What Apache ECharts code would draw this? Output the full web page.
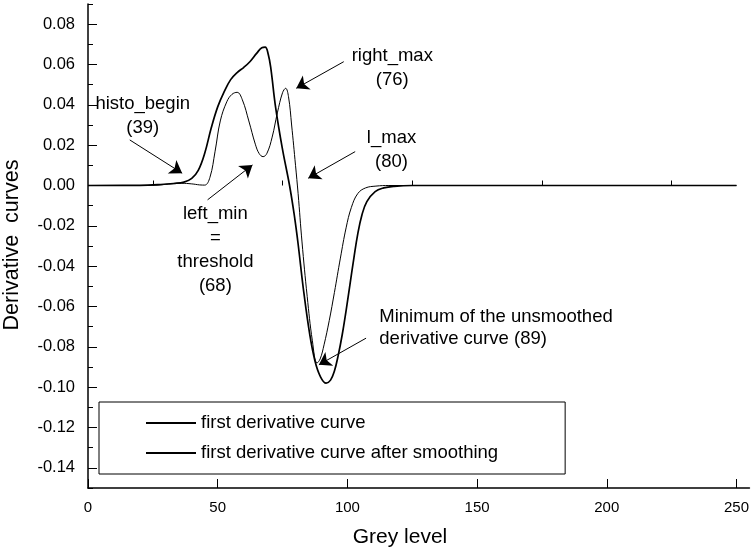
<!DOCTYPE html>
<html>
<head>
<meta charset="utf-8">
<script src="https://cdn.jsdelivr.net/npm/echarts@6/dist/echarts.min.js"></script>
<style>
  html, body { margin: 0; padding: 0; background: #fff; }
  #chart { width: 752px; height: 557px; }
</style>
</head>
<body>
<div id="chart"></div>
<script>
// Unsmoothed first derivative of the grey-level histogram
const rawGrey  = [0, 20, 27, 31, 36, 40, 43, 45, 47, 49, 51, 53.5, 55.5, 57.5, 59.5, 62, 64.5, 66, 67.5, 69, 71, 73, 75, 76.2, 77.3, 78.5, 80, 81, 82.5, 84.5, 86.5, 88.3, 89.5, 91, 93, 95, 97.3, 99.5, 101.5, 104, 107, 111, 116, 250];
const rawDeriv = [0, 0, 0.0002, 0.0007, 0.0011, 0.0008, 0.0003, 0.0002, 0.004, 0.017, 0.032, 0.0415, 0.0452, 0.0462, 0.0425, 0.032, 0.0205, 0.0158, 0.0143, 0.016, 0.024, 0.036, 0.046, 0.0482, 0.044, 0.03, 0.010, -0.004, -0.028, -0.055, -0.077, -0.088, -0.086, -0.079, -0.067, -0.053, -0.036, -0.021, -0.011, -0.004, -0.0012, -0.0003, 0, 0];

// First derivative after smoothing
const smoothGrey  = [0, 20, 28, 33, 37, 40, 42.5, 45, 47.5, 50, 52.5, 55, 57.5, 60, 62.5, 65, 67, 68.3, 69.5, 70.5, 72.3, 74.9, 77.7, 79.5, 81, 83, 85.5, 87.5, 89.5, 91.8, 93.5, 95, 96.5, 98, 99.5, 101, 102.5, 104, 105.6, 107.5, 110.7, 114, 118, 125, 250];
const smoothDeriv = [0, 0.0001, 0.0005, 0.001, 0.0017, 0.0035, 0.0075, 0.016, 0.0285, 0.039, 0.0465, 0.0525, 0.056, 0.0585, 0.0615, 0.0655, 0.0683, 0.0686, 0.065, 0.058, 0.039, 0.0185, 0, -0.0145, -0.029, -0.051, -0.074, -0.087, -0.0945, -0.098, -0.0965, -0.092, -0.084, -0.074, -0.062, -0.049, -0.036, -0.024, -0.0146, -0.008, -0.003, -0.0012, -0.0004, 0, 0];

// Axis ticks
const xMajorTicks = [0, 50, 100, 150, 200, 250];
const xMinorTicks = [25, 75, 125, 175, 225];
const yMajorTicks = [-0.14, -0.12, -0.10, -0.08, -0.06, -0.04, -0.02, 0.00, 0.02, 0.04, 0.06, 0.08];
const yMinorTicks = [-0.15, -0.13, -0.11, -0.09, -0.07, -0.05, -0.03, -0.01, 0.01, 0.03, 0.05, 0.07, 0.09];

const seriesNames = ['first derivative curve', 'first derivative curve after smoothing'];

// Annotations: text block anchor, text alignment, arrow tail and arrow head (grey level, derivative)
const noteTexts  = ['histo_begin\n(39)', 'left_min\n=\nthreshold\n(68)', 'right_max\n(76)', 'l_max\n(80)', 'Minimum of the unsmoothed\nderivative curve (89)'];
const noteAnchor = [[21.1, 0.0347], [49.1, -0.0319], [117.3, 0.0585], [117.0, 0.0176], [112.3, -0.0708]];
const noteAlign  = ['center', 'center', 'center', 'center', 'left'];
const arrowTail  = [[16.1, 0.0226], [46.1, -0.0071], [98.6, 0.0614], [103.0, 0.0168], [107.2, -0.0757]];
const arrowHead  = [[36.3, 0.0061], [63.4, 0.0102], [80.3, 0.0482], [84.9, 0.0036], [89.0, -0.0889]];

const FONT = 'Liberation Sans, Arial, sans-serif';
const zip = (xs, ys) => xs.map((x, i) => [x, ys[i]]);

const chart = echarts.init(document.getElementById('chart'), null, { renderer: 'canvas' });

const axisLineStyle = { color: '#000', width: 1.5 };

const option = {
  animation: false,
  backgroundColor: '#fff',
  grid: { left: 88, right: 0, top: 4, bottom: 69, containLabel: false },
  xAxis: [
    {
      type: 'value', min: 0, max: 255, position: 'bottom',
      axisLine: { show: true, onZero: false, lineStyle: axisLineStyle },
      axisTick: { show: true, inside: true, length: 9, customValues: xMajorTicks, lineStyle: { color: '#000', width: 1 } },
      axisLabel: { show: true, customValues: xMajorTicks, margin: 12, color: '#000', fontSize: 15, fontFamily: FONT },
      splitLine: { show: false }
    },
    {
      type: 'value', min: 0, max: 255, position: 'bottom', offset: 0,
      axisLine: { show: false },
      axisTick: { show: true, inside: true, length: 5, customValues: xMinorTicks, lineStyle: { color: '#000', width: 1 } },
      axisLabel: { show: false },
      splitLine: { show: false }
    }
  ],
  yAxis: [
    {
      type: 'value', min: -0.15, max: 0.09, position: 'left',
      axisLine: { show: true, onZero: false, lineStyle: axisLineStyle },
      axisTick: { show: true, inside: true, length: 9, customValues: yMajorTicks, lineStyle: { color: '#000', width: 1 } },
      axisLabel: {
        show: true, customValues: yMajorTicks, margin: 13, color: '#000', fontSize: 16.5, fontFamily: FONT,
        formatter: v => (Math.abs(v) < 1e-9 ? 0 : v).toFixed(2)
      },
      splitLine: { show: false }
    },
    {
      type: 'value', min: -0.15, max: 0.09, position: 'left', offset: 0,
      axisLine: { show: false },
      axisTick: { show: true, inside: true, length: 5, customValues: yMinorTicks, lineStyle: { color: '#000', width: 1 } },
      axisLabel: { show: false },
      splitLine: { show: false }
    }
  ],
  legend: {
    orient: 'vertical',
    left: 99, top: 402,
    data: seriesNames,
    itemWidth: 50, itemHeight: 14, itemGap: 11,
    padding: [11.5, 67, 11.5, 46],
    borderColor: '#000', borderWidth: 1,
    itemStyle: { opacity: 0 },
    textStyle: { color: '#000', fontSize: 18.5, lineHeight: 19, fontFamily: FONT },
    backgroundColor: '#fff'
  },
  series: [
    {
      name: seriesNames[0], type: 'line', data: zip(rawGrey, rawDeriv),
      symbol: 'none', smooth: 0.4,
      lineStyle: { color: '#000', width: 1 }, itemStyle: { color: '#000' },
      z: 3,
      markLine: {
        silent: true, symbol: ['none', 'arrow'], symbolSize: 12,
        lineStyle: { color: '#000', width: 1, type: 'solid' },
        label: { show: false },
        data: arrowTail.map((t, i) => [{ coord: t }, { coord: arrowHead[i] }])
      },
      markPoint: {
        silent: true,
        symbol: 'circle', symbolSize: 0,
        data: noteTexts.map((t, i) => ({
          coord: noteAnchor[i],
          label: {
            show: true, position: 'inside', formatter: t,
            align: noteAlign[i], verticalAlign: 'middle',
            color: '#000', fontSize: 18.5, lineHeight: i === 4 ? 22 : 24, fontFamily: FONT
          }
        }))
      }
    },
    {
      name: seriesNames[1], type: 'line', data: zip(smoothGrey, smoothDeriv),
      symbol: 'none', smooth: 0.4,
      lineStyle: { color: '#000', width: 1.7 }, itemStyle: { color: '#000' },
      z: 3
    }
  ],
  graphic: [
    {
      type: 'text', x: 400, y: 537,
      style: { text: 'Grey level', fill: '#000', fontSize: 21, fontFamily: FONT, align: 'center', verticalAlign: 'middle' }
    },
    {
      type: 'text', x: 12, y: 245, rotation: Math.PI / 2,
      style: { text: 'Derivative  curves', fill: '#000', fontSize: 21.5, fontFamily: FONT, align: 'center', verticalAlign: 'middle' }
    }
  ]
};

chart.setOption(option);
</script>
</body>
</html>
